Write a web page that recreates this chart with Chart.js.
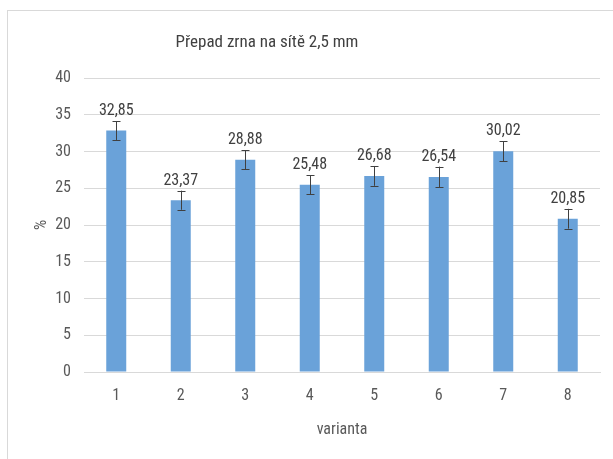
<!DOCTYPE html>
<html>
<head>
<meta charset="utf-8">
<script src="https://cdn.jsdelivr.net/npm/chart.js@4/dist/chart.umd.min.js"></script>
<style>
html,body{margin:0;padding:0;background:#fff;overflow:hidden;}
#box{position:absolute;left:7px;top:10px;width:620px;height:460px;border:1px solid #d9d9d9;box-sizing:border-box;}
#wrap{position:absolute;left:0;top:0;width:606px;height:449px;}
</style>
</head>
<body>
<div id="box"><div id="wrap"><canvas id="c"></canvas></div></div>
<script>
const chartTitle = 'Přepad zrna na sítě 2,5 mm';
const categories = ['1','2','3','4','5','6','7','8'];
const values = [32.85, 23.37, 28.88, 25.48, 26.68, 26.54, 30.02, 20.85];
const errors = [1.3, 1.3, 1.3, 1.3, 1.35, 1.4, 1.35, 1.35];
const yTicks = [0, 5, 10, 15, 20, 25, 30, 35, 40];
const xTitle = 'varianta';
const yTitle = '%';

const FONT = '"Liberation Sans Narrow", "Arial Narrow", "Roboto Condensed", "Liberation Sans", sans-serif';
const GREY = '#595959';

const extras = {
  id: 'extras',
  afterDatasetsDraw(chart) {
    const ctx = chart.ctx;
    const y = chart.scales.y;
    const meta = chart.getDatasetMeta(0);
    ctx.save();
    ctx.strokeStyle = '#404040';
    ctx.lineWidth = 1;
    meta.data.forEach((bar, i) => {
      const x = Math.round(bar.x) + 0.5;
      const top = y.getPixelForValue(values[i] + errors[i]);
      const bot = y.getPixelForValue(values[i] - errors[i]);
      ctx.beginPath();
      ctx.moveTo(x, top); ctx.lineTo(x, bot);
      ctx.moveTo(x - 4, Math.round(top) + 0.5); ctx.lineTo(x + 4, Math.round(top) + 0.5);
      ctx.moveTo(x - 4, Math.round(bot) + 0.5); ctx.lineTo(x + 4, Math.round(bot) + 0.5);
      ctx.stroke();
      ctx.fillStyle = '#404040';
      ctx.font = '16px ' + FONT;
      ctx.textAlign = 'center';
      ctx.textBaseline = 'bottom';
      ctx.fillText(values[i].toFixed(2).replace('.', ','), bar.x, top - 2);
    });
    ctx.fillStyle = '#404040';
    ctx.font = '17px ' + FONT;
    ctx.textAlign = 'center';
    ctx.textBaseline = 'middle';
    ctx.fillText(chartTitle, 259, 32);
    ctx.restore();
  }
};

new Chart(document.getElementById('c'), {
  type: 'bar',
  data: {
    labels: categories,
    datasets: [{
      data: values,
      backgroundColor: '#6aa2d9',
      categoryPercentage: 1,
      barPercentage: 0.31
    }]
  },
  options: {
    responsive: true,
    maintainAspectRatio: false,
    animation: false,
    layout: { padding: { top: 67, right: 14, bottom: 0, left: 0 } },
    plugins: { legend: { display: false }, tooltip: { enabled: false }, title: { display: false } },
    scales: {
      x: {
        grid: { display: false, drawTicks: false },
        border: { display: true, color: '#d9d9d9' },
        ticks: { color: GREY, font: { family: FONT, size: 16 }, padding: 14 },
        title: { display: true, text: xTitle, color: GREY, font: { family: FONT, size: 16 }, padding: { top: 0, bottom: 20 } },
        afterFit(s) { s.height = 88; }
      },
      y: {
        min: 0, max: 40,
        afterBuildTicks(s) { s.ticks = yTicks.map(v => ({ value: v })); },
        grid: { color: '#d9d9d9', drawTicks: false },
        border: { display: false },
        ticks: { color: GREY, font: { family: FONT, size: 16 }, padding: 13 },
        title: { display: true, text: yTitle, color: GREY, font: { family: FONT, size: 16 }, padding: { top: 24, bottom: 0 } },
        afterFit(s) { s.width = 76; }
      }
    }
  },
  plugins: [extras]
});
</script>
</body>
</html>
